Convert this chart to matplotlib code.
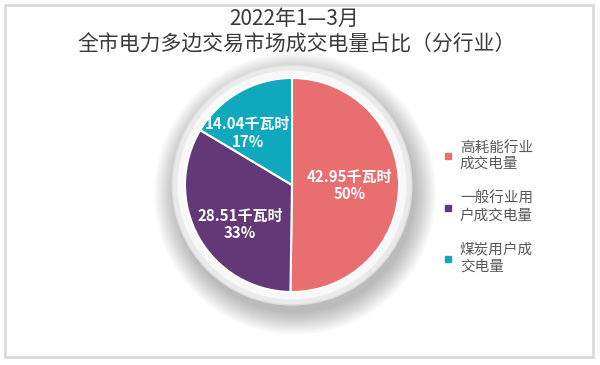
import numpy as np
import matplotlib
matplotlib.use("Agg")
import matplotlib.pyplot as plt
from matplotlib.patches import Circle, Rectangle
from matplotlib.lines import Line2D

plt.rcParams['font.family'] = ['Noto Sans CJK SC', 'DejaVu Sans']

# data
categories = ["高耗能行业\n成交电量", "一般行业用\n户成交电量", "煤炭用户成\n交电量"]
values = [42.95, 28.51, 14.04]
pct_labels = ["50%", "33%", "17%"]
colors = ["#E96E70", "#633877", "#0FA8BD"]
title1 = "2022年1—3月"
title2 = "全市电力多边交易市场成交电量占比（分行业）"

# label position (distance, angle offset in degrees) per wedge
label_pos = [(0.54, 0), (0.61, 8), (0.64, 11)]

fig = plt.figure(figsize=(6, 3.65), dpi=100)
fig.patches.append(Rectangle((5 / 600, 8 / 365), 588 / 600, 352 / 365,
                             transform=fig.transFigure, fill=False,
                             edgecolor="#dadada", lw=2, zorder=0))

fig.text(0.49, 0.948, title1, ha="center", va="center", fontsize=15, color="#3a3a3a")
fig.text(0.495, 0.877, title2, ha="center", va="center", fontsize=15, color="#3a3a3a")

ax = fig.add_axes([131.5 / 600, 19.5 / 365, 321 / 600, 321 / 365])

# soft shadow + ring behind the pie
for i in range(12):
    ax.add_patch(Circle((0.03, -0.08), 1.12 + i * 0.018, color="#000000",
                        alpha=0.022, lw=0, zorder=0))
ax.add_patch(Circle((0, 0), 1.12, facecolor="#eaeaea", edgecolor="#dedede", lw=1, zorder=1))
ax.add_patch(Circle((0, 0), 1.07, facecolor="#f8f8f8", lw=0, zorder=1))

wedges, _ = ax.pie(values, colors=colors, startangle=90, counterclock=False,
                   radius=1.0, wedgeprops=dict(edgecolor="white", linewidth=1.5, zorder=2))
ax.set_xlim(-1.5, 1.5)
ax.set_ylim(-1.5, 1.5)
ax.set_aspect("equal")
ax.axis("off")

for w, v, p, (dist, off) in zip(wedges, values, pct_labels, label_pos):
    ang = np.deg2rad((w.theta1 + w.theta2) / 2 + off)
    x, y = dist * np.cos(ang), dist * np.sin(ang)
    ax.text(x, y, f"{v:.2f}千瓦时\n{p}", ha="center", va="center", color="white",
            fontsize=10.8, fontweight="bold", linespacing=1.1, zorder=3)

handles = [Line2D([], [], marker="s", ls="", markersize=5, color=c) for c in colors]
fig.legend(handles, categories, loc="upper left", bbox_to_anchor=(438 / 600, 1 - 135 / 365),
           frameon=False, fontsize=10.5, labelcolor="#595959", handlelength=0.6,
           handletextpad=0.5, labelspacing=1.45, borderaxespad=0)

fig.savefig("out.png", dpi=100)
